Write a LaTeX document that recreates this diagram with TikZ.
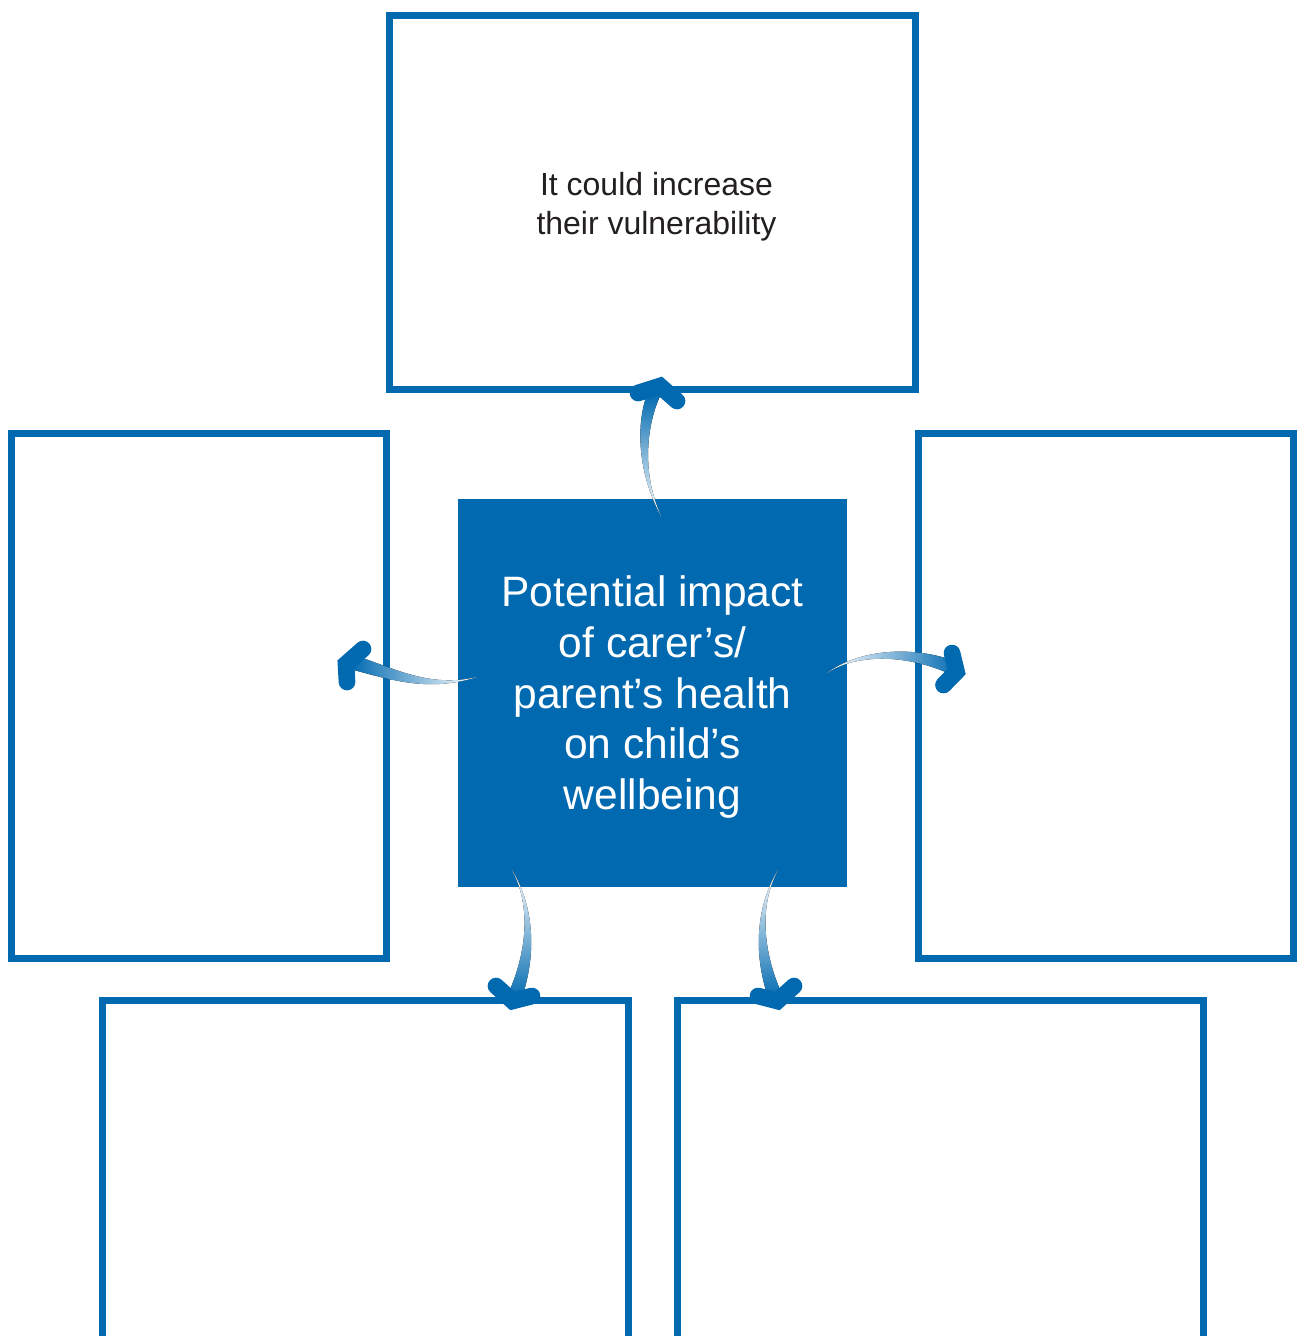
\documentclass[tikz,border=0pt]{standalone}
\usepackage{fontspec}
\setmainfont{Liberation Sans}
\usetikzlibrary{positioning,calc}
\definecolor{impactblue}{RGB}{0,105,176}
\definecolor{boxtext}{RGB}{35,31,32}

% tapered shaded shaft plus a chevron head
% #1 shading, #2 tail, #3 #4 controls, #5 shaft end, #6 half width, #7 arm, #8 tip, #9 arm
\newcommand{\impactarrow}[9]{%
  \fill[#1] (#2) .. controls ($(#3)-0.3*(#6)$) and ($(#4)-0.8*(#6)$) .. ($(#5)-(#6)$)
    -- ($(#5)+(#6)$) .. controls ($(#4)+0.8*(#6)$) and ($(#3)+0.3*(#6)$) .. (#2) -- cycle;
  \draw[arrow head] (#7) -- (#8) -- (#9);}

\begin{document}
\begin{tikzpicture}[x=0.02cm,y=-0.02cm,
  answer/.style={draw=impactblue,line width=4pt,fill=white},
  topic/.style={fill=impactblue,text=white,minimum width=7.78cm,minimum height=7.76cm,
    align=center,font=\fontsize{24.2}{29}\selectfont},
  arrow head/.style={draw=impactblue,line width=9.5pt,line cap=round,line join=miter}]

	\clip (0,0) rectangle (1297,1336);

	% the topic in the middle
	\node[topic] (centre) at (652.5,693) {\raisebox{-0.08cm}[\height][\depth]{\parbox{7cm}{\centering Potential impact\\of carer’s/\\parent’s health\\on child’s\\wellbeing}}};

	% the boxes round it
	\node[answer,minimum width=10.52cm,minimum height=7.48cm,above=2.12cm of centre,
	  align=center,text=boxtext,font=\fontsize{18.2}{22.2}\selectfont] (top) {\raisebox{-0.08cm}[\height][\depth]{\hspace{0.16cm}\parbox{6cm}{\centering It could increase\\their vulnerability}}};
	\node[answer,minimum width=7.5cm,minimum height=10.5cm,left=1.36cm of centre,yshift=-0.06cm] (left) {};
	\node[answer,minimum width=7.5cm,minimum height=10.5cm,right=1.36cm of centre,yshift=-0.06cm] (right) {};
	\node[answer,minimum width=10.52cm,minimum height=8.4cm,below=2.2cm of centre,xshift=-5.74cm] (botleft) {};
	\node[answer,minimum width=10.52cm,minimum height=8.4cm,below=2.2cm of centre,xshift=5.76cm] (botright) {};

	% ends of the arrows
	\coordinate (upTail) at (661,516);
	\coordinate (upTip) at (660,386);
	\coordinate (leftTail) at (477,677);
	\coordinate (leftTip) at (346,664);
	\coordinate (rightTail) at (827,673);
	\coordinate (rightTip) at (956.5,671.7);
	\coordinate (blTail) at (512,870);
	\coordinate (blTip) at (512.6,1001);
	\coordinate (brTail) at (778,870);
	\coordinate (brTip) at (777.4,1001);

	\impactarrow{top color=impactblue,bottom color=white}{upTail}{638,470}{642,420}{655,392}{7,0}{638,393}{upTip}{677,401}
	\impactarrow{left color=impactblue,right color=white}{leftTail}{430,690}{395,675}{352,662}{-2,7}{363,649}{leftTip}{347,682}
	\impactarrow{left color=white,right color=impactblue}{rightTail}{860,650}{915,650}{958,670}{-3,6.4}{952,653}{rightTip}{943.5,685}
	\impactarrow{top color=white,bottom color=impactblue}{blTail}{535,910}{530,960}{514,998}{6.5,2.7}{496,986}{blTip}{532,996}
	\impactarrow{top color=white,bottom color=impactblue}{brTail}{755,910}{760,960}{776,998}{-6.5,2.7}{794,986}{brTip}{758,996}

\end{tikzpicture}
\end{document}
